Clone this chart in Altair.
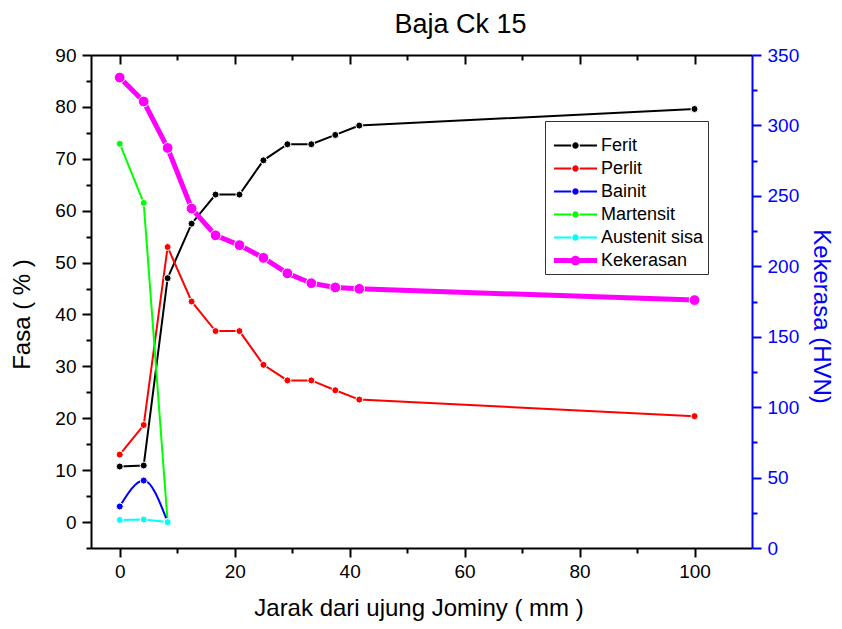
import altair as alt
import pandas as pd

# ---------------- data ----------------
distance = [0, 4.17, 8.33, 12.5, 16.67, 20.83, 25, 29.17, 33.33, 37.5, 41.67, 100]
ferit = [10.7, 10.9, 47.0, 57.5, 63.1, 63.1, 69.7, 72.8, 72.8, 74.6, 76.4, 79.6]
perlit = [13.0, 18.7, 53.0, 42.5, 36.8, 36.8, 30.3, 27.3, 27.3, 25.4, 23.6, 20.4]
early_distance = [0, 4.17, 8.33]
bainit = [3.0, 8.0, 0.0]
martensit = [72.9, 61.5, 0.0]
austenit_sisa = [0.4, 0.5, 0.0]
kekerasan = [334, 317, 284, 241, 222, 215, 206, 195, 188, 185, 184, 176]

series_names = ["Ferit", "Perlit", "Bainit", "Martensit", "Austenit sisa", "Kekerasan"]
series_colors = ["#000000", "#FF0000", "#0000FF", "#00FF00", "#00FFFF", "#FF00FF"]

x_major = [0, 20, 40, 60, 80, 100]
x_minor = [10, 30, 50, 70, 90]
left_major = [0, 10, 20, 30, 40, 50, 60, 70, 80, 90]
left_minor = [-5, 5, 15, 25, 35, 45, 55, 65, 75, 85]
right_major = [0, 50, 100, 150, 200, 250, 300, 350]
right_minor = [25, 75, 125, 175, 225, 275, 325]

color_of = dict(zip(series_names, series_colors))
rows = []
for name, xs, ys in [("Ferit", distance, ferit), ("Perlit", distance, perlit),
                     ("Bainit", early_distance, bainit),
                     ("Martensit", early_distance, martensit),
                     ("Austenit sisa", early_distance, austenit_sisa)]:
    for a, b in zip(xs, ys):
        rows.append({"x": a, "val": b, "series": name, "col": color_of[name]})
left_df = pd.DataFrame(rows)
hard_df = pd.DataFrame({"x": distance, "val": kekerasan, "series": ["Kekerasan"] * len(distance)})

# ---------------- styling ----------------
FONT = "Liberation Sans"
BLUE = "#0000FF"
W, H = 661, 493

X_SCALE = alt.Scale(domain=[-5, 110], nice=False, zero=False)
L_SCALE = alt.Scale(domain=[-5, 90], nice=False, zero=False)
R_SCALE = alt.Scale(domain=[0, 350], nice=False, zero=False)
COLOR = alt.Color("col:N", scale=None)


def xe(axis=None):
    return alt.X("x:Q", scale=X_SCALE, axis=axis)


def yl(axis=None):
    return alt.Y("val:Q", scale=L_SCALE, axis=axis)


def yr(axis=None):
    return alt.Y("val:Q", scale=R_SCALE, axis=axis)


common = dict(grid=False, tickWidth=2, domainWidth=2, labelFont=FONT, titleFont=FONT,
              labelFontSize=19, titleFontSize=24, titleFontWeight="normal")

ax_bottom = alt.Axis(orient="bottom", values=x_major, format="d", tickSize=9, labelPadding=5,
                     tickColor="black", domainColor="black", labelColor="black",
                     title="Jarak dari ujung Jominy ( mm )", titleColor="black",
                     titleX=W / 2 - 3, titleY=67, titleAlign="center", titleBaseline="alphabetic", **common)
ax_bottom_minor = alt.Axis(orient="bottom", values=x_minor, tickSize=5, labels=False, domain=False,
                           tickColor="black", title=None, grid=False, tickWidth=2)
ax_top_major = alt.Axis(orient="bottom", offset=-H, values=x_major, tickSize=9, labels=False,
                        domain=True, domainColor="black", domainWidth=2, tickColor="black",
                        tickWidth=2, title=None, grid=False)
ax_top_minor = alt.Axis(orient="bottom", offset=-H, values=x_minor, tickSize=5, labels=False,
                        domain=False, tickColor="black", tickWidth=2, title=None, grid=False)

ax_left = alt.Axis(orient="left", values=left_major, format="d", tickSize=9, labelPadding=6,
                   tickColor="black", domainColor="black", labelColor="black",
                   title="Fasa ( % )", titleColor="black", titleAngle=270,
                   titleX=-69, titleY=259, titleAlign="center", titleBaseline="middle", **common)
ax_left_minor = alt.Axis(orient="left", values=left_minor, tickSize=5, labels=False, domain=False,
                         tickColor="black", tickWidth=2, title=None, grid=False)

ax_right = alt.Axis(orient="right", values=right_major, format="d", tickSize=9, labelPadding=6,
                    tickColor=BLUE, domainColor=BLUE, labelColor=BLUE,
                    title="Kekerasa (HVN)", titleColor=BLUE, titleAngle=90,
                    titleX=68, titleY=261, titleAlign="center", titleBaseline="middle", **common)
ax_right_minor = alt.Axis(orient="right", values=right_minor, tickSize=5, labels=False, domain=False,
                          tickColor=BLUE, tickWidth=2, title=None, grid=False)


# ---------------- legend symbol shapes (line - dot - line) ----------------
def circle(cx, r):
    return f"M{cx + r},0A{r},{r} 0 1,1 {cx - r},0A{r},{r} 0 1,1 {cx + r},0Z"


def rect(x0, x1, h):
    return f"M{x0},{-h}H{x1}V{h}H{x0}Z"


thin_path = rect(-0.5625, 1.5875, 0.125) + rect(2.6625, 4.8125, 0.125) + circle(2.125, 0.4)
thick_path = rect(-0.5625, 4.8125, 0.3125) + circle(2.125, 0.6)
legend_paths = [thin_path] * 5 + [thick_path]

legend = alt.Legend(orient="none", legendX=454, legendY=66, title=" ", titleFontSize=6,
                    titlePadding=5, strokeColor="#333333",
                    fillColor="white", padding=4.5, labelFont=FONT, labelFontSize=18,
                    labelColor="black", symbolSize=256, labelOffset=33.5, rowPadding=5,
                    symbolStrokeWidth=0, labelLimit=0, cornerRadius=0)

# ---------------- layers ----------------
axes_main = alt.Chart(left_df).mark_point(opacity=0).encode(
    x=xe(ax_bottom), y=yl(ax_left)).transform_filter("false")
axes_minor = alt.Chart(left_df).mark_point(opacity=0).encode(
    x=xe(ax_bottom_minor), y=yl(ax_left_minor)).transform_filter("false")
axes_top_major = alt.Chart(left_df).mark_point(opacity=0).encode(
    x=xe(ax_top_major), y=yl(None)).transform_filter("false")
axes_top_minor = alt.Chart(left_df).mark_point(opacity=0).encode(
    x=xe(ax_top_minor), y=yl(None)).transform_filter("false")
axes_right_minor = alt.Chart(hard_df).mark_point(opacity=0).encode(
    x=xe(None), y=yr(ax_right_minor)).transform_filter("false")

lines_linear = alt.Chart(left_df).mark_line(strokeWidth=2).encode(
    x=xe(), y=yl(), color=COLOR, detail="series:N"
).transform_filter("datum.series != 'Bainit'")
line_bainit = alt.Chart(left_df).mark_line(strokeWidth=2, interpolate="monotone").encode(
    x=xe(), y=yl(), color=COLOR
).transform_filter("datum.series == 'Bainit'")
points_left = alt.Chart(left_df).mark_point(filled=True, opacity=1, size=49, stroke="white",
                                            strokeWidth=1).encode(
    x=xe(), y=yl(), color=COLOR)

hard_line = alt.Chart(hard_df).mark_line(strokeWidth=5, color="#FF00FF").encode(
    x=xe(), y=yr(ax_right))
hard_points = alt.Chart(hard_df).mark_point(filled=True, opacity=1, size=115, color="#FF00FF",
                                            stroke="white", strokeWidth=1).encode(
    x=xe(), y=yr())

legend_layer = alt.Chart(hard_df).mark_point(filled=True, opacity=1).encode(
    x=xe(), y=yl(),
    fill=alt.Fill("series:N", scale=alt.Scale(domain=series_names, range=series_colors), legend=legend),
    shape=alt.Shape("series:N", scale=alt.Scale(domain=series_names, range=legend_paths), legend=legend),
).transform_filter("false")

chart = alt.layer(
    axes_main, axes_minor, axes_top_major, axes_top_minor, axes_right_minor,
    lines_linear, line_bainit, points_left, hard_line, hard_points, legend_layer
).resolve_scale(y="independent").resolve_axis(x="independent", y="independent").properties(
    width=W, height=H,
    title=alt.TitleParams("Baja Ck 15", font=FONT, fontSize=27, fontWeight="normal", color="black",
                          anchor="middle", frame="group", dx=39, offset=-14, baseline="alphabetic"),
    autosize=alt.AutoSizeParams(type="none"),
    padding={"left": 83, "top": 47, "right": 82, "bottom": 73},
).configure_view(stroke=None)

chart.save("out.html", embed_options={"renderer": "svg", "actions": False})
